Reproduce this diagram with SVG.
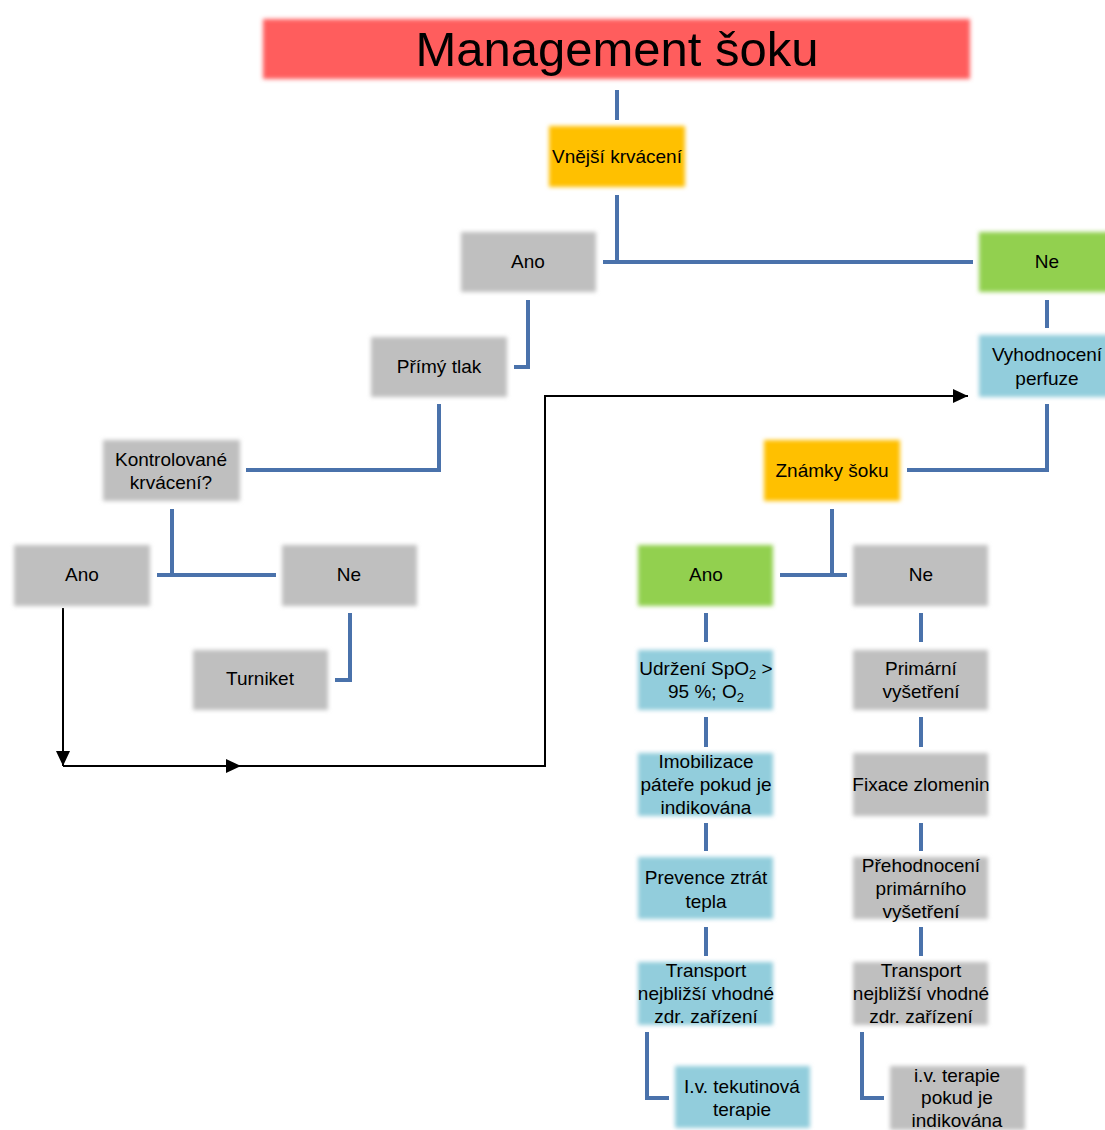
<svg xmlns="http://www.w3.org/2000/svg" width="1105" height="1130" viewBox="0 0 1105 1130">
<style>
text{font-family:"Liberation Sans",Arial,sans-serif;font-size:19px;fill:#000;text-anchor:middle}
.title{font-size:49px}
.red{fill:#FF5D5D}
.org{fill:#FFC000}
.gry{fill:#BFBFBF}
.grn{fill:#92D050}
.blu{fill:#92CDDC}
.box{filter:url(#soft)}
.con{fill:none;stroke:#4A72AB;stroke-width:4}
.arr{fill:none;stroke:#000;stroke-width:2}
</style>
<defs>
<filter id="soft" x="-10%" y="-10%" width="120%" height="120%"><feGaussianBlur stdDeviation="2"/></filter>
<marker id="ah" markerUnits="userSpaceOnUse" markerWidth="16" markerHeight="16" refX="15" refY="7" orient="auto"><path d="M0,0 L15,7 L0,14 Z" fill="#000"/></marker>
</defs>
<rect width="1105" height="1130" fill="#fff"/>
<g id="connectors">
<path class="con" d="M617,90 V120"/>
<path class="con" d="M617,195 V262"/>
<path class="con" d="M603,262 H973"/>
<path class="con" d="M1047,300 V328"/>
<path class="con" d="M1047,404 V470 H907"/>
<path class="con" d="M832,509 V575"/>
<path class="con" d="M780,575 H847"/>
<path class="con" d="M528,300 V367 H514"/>
<path class="con" d="M439,404 V470 H246"/>
<path class="con" d="M172,509 V575"/>
<path class="con" d="M157,575 H276"/>
<path class="con" d="M350,613 V680 H335"/>
<path class="con" d="M706,613 V642"/>
<path class="con" d="M706,717 V747"/>
<path class="con" d="M706,823 V851"/>
<path class="con" d="M706,927 V956"/>
<path class="con" d="M647,1032 V1098 H669"/>
<path class="con" d="M921,613 V642"/>
<path class="con" d="M921,717 V747"/>
<path class="con" d="M921,823 V851"/>
<path class="con" d="M921,927 V956"/>
<path class="con" d="M862,1032 V1098 H884"/>
<path class="arr" d="M63,608 V766" marker-end="url(#ah)"/>
<path class="arr" d="M63,766 H241" marker-end="url(#ah)"/>
<path class="arr" d="M235,766 H545 V396 H968" marker-end="url(#ah)"/>
</g>
<g id="title"><rect class="box red" x="263" y="19" width="707" height="60"/><text class="title" x="617" y="66">Management šoku</text></g>
<g id="vnejsi"><rect class="box org" x="549" y="126" width="136" height="61"/><text x="617" y="163">Vnější krvácení</text></g>
<g id="ano1"><rect class="box gry" x="461" y="232" width="135" height="60"/><text x="528" y="268">Ano</text></g>
<g id="ne1"><rect class="box grn" x="979" y="232" width="136" height="60"/><text x="1047" y="268">Ne</text></g>
<g id="vyhodnoceni"><rect class="box blu" x="979" y="335" width="136" height="62"/><text x="1047" y="361">Vyhodnocení</text><text x="1047" y="385">perfuze</text></g>
<g id="primy"><rect class="box gry" x="371" y="337" width="136" height="60"/><text x="439" y="373">Přímý tlak</text></g>
<g id="kontrolovane"><rect class="box gry" x="103" y="440" width="137" height="61"/><text x="171" y="466">Kontrolované</text><text x="171" y="489">krvácení?</text></g>
<g id="ano2"><rect class="box gry" x="14" y="545" width="136" height="61"/><text x="82" y="581">Ano</text></g>
<g id="ne2"><rect class="box gry" x="282" y="545" width="135" height="61"/><text x="349" y="581">Ne</text></g>
<g id="turniket"><rect class="box gry" x="193" y="650" width="135" height="60"/><text x="260" y="685">Turniket</text></g>
<g id="znamky"><rect class="box org" x="764" y="440" width="136" height="61"/><text x="832" y="477">Známky šoku</text></g>
<g id="ano3"><rect class="box grn" x="638" y="545" width="135" height="61"/><text x="706" y="581">Ano</text></g>
<g id="ne3"><rect class="box gry" x="853" y="545" width="135" height="61"/><text x="921" y="581">Ne</text></g>
<g id="udrzeni"><rect class="box blu" x="638" y="650" width="135" height="60"/><text x="706" y="675">Udržení SpO<tspan font-size="13" dy="4">2</tspan><tspan dy="-4"> &gt;</tspan></text><text x="706" y="698">95 %; O<tspan font-size="13" dy="4">2</tspan></text></g>
<g id="imobilizace"><rect class="box blu" x="638" y="753" width="135" height="63"/><text x="706" y="768">Imobilizace</text><text x="706" y="791">páteře pokud je</text><text x="706" y="814">indikována</text></g>
<g id="prevence"><rect class="box blu" x="638" y="857" width="135" height="62"/><text x="706" y="884">Prevence ztrát</text><text x="706" y="908">tepla</text></g>
<g id="transport1"><rect class="box blu" x="638" y="962" width="135" height="63"/><text x="706" y="977">Transport</text><text x="706" y="1000">nejbližší vhodné</text><text x="706" y="1023">zdr. zařízení</text></g>
<g id="iv1"><rect class="box blu" x="675" y="1066" width="135" height="62"/><text x="742" y="1093">I.v. tekutinová</text><text x="742" y="1116">terapie</text></g>
<g id="primarni"><rect class="box gry" x="853" y="650" width="135" height="60"/><text x="921" y="675">Primární</text><text x="921" y="698">vyšetření</text></g>
<g id="fixace"><rect class="box gry" x="853" y="753" width="135" height="63"/><text x="921" y="791">Fixace zlomenin</text></g>
<g id="prehodnoceni"><rect class="box gry" x="853" y="857" width="135" height="62"/><text x="921" y="872">Přehodnocení</text><text x="921" y="895">primárního</text><text x="921" y="918">vyšetření</text></g>
<g id="transport2"><rect class="box gry" x="853" y="962" width="135" height="63"/><text x="921" y="977">Transport</text><text x="921" y="1000">nejbližší vhodné</text><text x="921" y="1023">zdr. zařízení</text></g>
<g id="iv2"><rect class="box gry" x="890" y="1066" width="135" height="64"/><text x="957" y="1082">i.v. terapie</text><text x="957" y="1104">pokud je</text><text x="957" y="1127">indikována</text></g>
</svg>
